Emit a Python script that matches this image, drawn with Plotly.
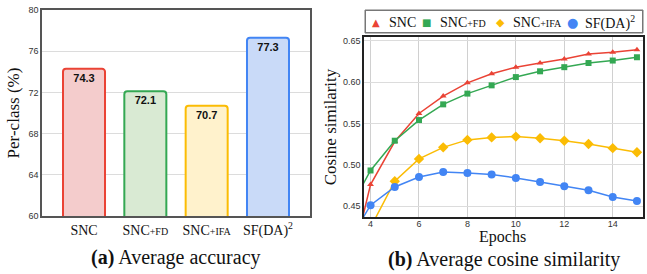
import plotly.graph_objects as go

# ---- data ----
methods = ["SNC", "SNC+FD", "SNC+IFA", "SF(DA)2"]
method_labels = ["SNC", "SNC<span style='font-size:10px'>+FD</span>",
                 "SNC<span style='font-size:10px'>+IFA</span>", "SF(DA)<sup>2</sup>"]
accuracy = [74.3, 72.1, 70.7, 77.3]

epochs = [3, 4, 5, 6, 7, 8, 9, 10, 11, 12, 13, 14, 15]
cos_snc = [0.354, 0.476, 0.528, 0.562, 0.583, 0.599, 0.610, 0.618, 0.623, 0.628, 0.634, 0.636, 0.639]
cos_fd = [0.439, 0.493, 0.529, 0.554, 0.573, 0.586, 0.596, 0.606, 0.613, 0.618, 0.623, 0.626, 0.630]
cos_ifa = [0.370, 0.424, 0.480, 0.507, 0.521, 0.530, 0.533, 0.534, 0.532, 0.529, 0.525, 0.520, 0.515]
cos_sfda = [0.402, 0.451, 0.473, 0.485, 0.491, 0.490, 0.488, 0.484, 0.479, 0.474, 0.469, 0.461, 0.456]

series_names = ["SNC", "SNC<span style='font-size:10px'>+FD</span>",
                "SNC<span style='font-size:10px'>+IFA</span>", "SF(DA)<sup>2</sup>"]
line_colors = ["#EA4335", "#34A853", "#FBBC04", "#4285F4"]
fill_colors = ["#F4CCCC", "#D9EAD3", "#FFF2CC", "#C9DAF8"]

SERIF = "Liberation Serif"
SANS = "Liberation Sans"
W, H = 647, 274

fig = go.Figure()

# ---- bar chart ----
fig.add_trace(go.Bar(
    x=list(range(len(methods))), y=accuracy, width=0.685,
    marker=dict(color=fill_colors, line=dict(color=line_colors, width=2), cornerradius=3),
    text=[f"{v:.1f}" for v in accuracy], textposition="inside", insidetextanchor="end",
    textfont=dict(family=SANS, size=11, color="#111"), texttemplate="<b>%{text}</b>",
    base=0, xaxis="x", yaxis="y", showlegend=False, cliponaxis=True,
))

# ---- line chart ----
symbols = ["triangle-up", "square", "diamond", "circle"]
sizes = [6, 6, 8, 8]
for name, vals, sym, sz, col in zip(series_names, [cos_snc, cos_fd, cos_ifa, cos_sfda], symbols, sizes, line_colors):
    fig.add_trace(go.Scatter(
        x=epochs, y=vals, name=name, mode="lines+markers",
        line=dict(color=col, width=1.5), marker=dict(symbol=sym, size=sz, color=col),
        xaxis="x2", yaxis="y2", cliponaxis=True, showlegend=False,
    ))

# ---- manual legend (boxed row above the line chart) ----
legend_glyphs = ["▲", "■", "◆", "●"]
glyph_sizes = [10, 10, 11, 13]
glyph_x = [376, 426, 500, 572]
text_x = [387, 438, 511, 583]
leg_y = 1 - 22 / H
annotations = [
    # legend frame
    dict(text="&nbsp;", x=504 / W, y=1 - 21.5 / H, xref="paper", yref="paper", showarrow=False,
         xanchor="center", yanchor="middle", width=276, height=21, borderpad=0,
         bordercolor="#777", borderwidth=1, font=dict(size=10, color="rgba(0,0,0,0)")),
]
for g, gs, gx, tx, name, col in zip(legend_glyphs, glyph_sizes, glyph_x, text_x, series_names, line_colors):
    annotations.append(dict(text=g, x=gx / W, y=leg_y, xref="paper", yref="paper", showarrow=False,
                            xanchor="center", yanchor="middle",
                            font=dict(family="DejaVu Sans", size=gs, color=col)))
    annotations.append(dict(text=name, x=tx / W, y=leg_y, xref="paper", yref="paper", showarrow=False,
                            xanchor="left", yanchor="middle",
                            font=dict(family=SERIF, size=14, color="#111")))

annotations += [
    dict(text="Epochs", x=503 / W, y=1 - 237 / H, xref="paper", yref="paper",
         showarrow=False, font=dict(family=SERIF, size=16, color="#111"), xanchor="center", yanchor="middle"),
    dict(text="<b>(a)</b> Average accuracy", x=176 / W, y=1 - 257 / H, xref="paper", yref="paper",
         showarrow=False, font=dict(family=SERIF, size=20, color="#111"), xanchor="center", yanchor="middle"),
    dict(text="<b>(b)</b> Average cosine similarity", x=504 / W, y=1 - 259 / H, xref="paper", yref="paper",
         showarrow=False, font=dict(family=SERIF, size=20, color="#111"), xanchor="center", yanchor="middle"),
]

tickfont = dict(family=SANS, size=9, color="#333")
fig.update_layout(
    width=W, height=H, margin=dict(l=0, r=0, t=0, b=0),
    paper_bgcolor="white", plot_bgcolor="white", showlegend=False,
    xaxis=dict(domain=[42 / W, 310 / W], range=[-0.685, 3.685], tickvals=list(range(len(methods))),
               ticktext=method_labels, tickfont=dict(family=SERIF, size=14, color="#111"),
               showgrid=False, showline=True, linecolor="#555", mirror=True, linewidth=1.5,
               ticks="", ticklabelstandoff=0, automargin=False),
    yaxis=dict(domain=[58 / H, 264 / H], range=[60, 80], tickvals=[60, 64, 68, 72, 76, 80],
               tickfont=tickfont, showgrid=True, gridcolor="#dcdcdc", showline=True,
               linecolor="#555", mirror=True, linewidth=1.5, ticks="", automargin=False,
               title=dict(text="Per-class (%)", font=dict(family=SERIF, size=17, color="#111"), standoff=4)),
    xaxis2=dict(domain=[364 / W, 643 / W], range=[3.73, 15.25], tickvals=[4, 6, 8, 10, 12, 14],
                tickfont=tickfont, showgrid=True, gridcolor="#d0d0d0", showline=True,
                linecolor="#222", mirror=True, linewidth=1.5, ticks="", anchor="y2", automargin=False,
                ticklabelstandoff=-3),
    yaxis2=dict(domain=[57 / H, 237 / H], range=[0.4367, 0.6545],
                tickvals=[0.45, 0.50, 0.55, 0.60, 0.65], tickformat=".2f",
                tickfont=tickfont, showgrid=True, gridcolor="#dcdcdc", showline=True,
                linecolor="#222", mirror=True, linewidth=1.5, ticks="", anchor="x2", automargin=False,
                title=dict(text="Cosine similarity", font=dict(family=SERIF, size=17, color="#111"), standoff=2)),
    shapes=[dict(type="rect", xref="paper", yref="paper", x0=365 / W, x1=643 / W, y0=1 - 33 / H, y1=1 - 10 / H,
                 line=dict(color="#777", width=1), layer="above")],
    annotations=annotations,
)

fig.write_html("out.html", config={"displayModeBar": False},
               post_script="document.body.style.margin='0';document.body.style.overflow='hidden';")
